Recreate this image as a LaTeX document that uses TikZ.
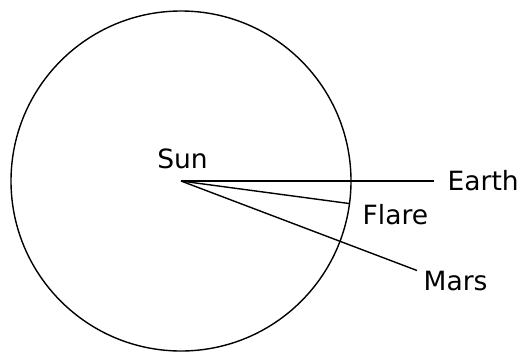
\documentclass[tikz,border=0pt]{standalone}
\usepackage{fontspec}
\setmainfont{DejaVu Sans}
\usetikzlibrary{positioning}

\begin{document}
\begin{tikzpicture}[x=1pt,y=-1pt,
    ray/.style={line width=1.4pt},
    lbl/.style={inner sep=0pt, anchor=base west, font=\fontsize{26.5}{31}\selectfont}]
        \useasboundingbox (0,0) rectangle (522,351);

        % the sun
        \coordinate (sun) at (181,181);
        \draw[ray] (sun) circle (170pt);
        \node[lbl, anchor=base] (sunlbl) at (182.5,168) {Sun};

        % end points of the rays
        \coordinate (earthend) at (434,181);
        \coordinate (flareend) at (349,203.5);
        \coordinate (marsend) at (417,270.5);

        \draw[ray] (sun) -- (earthend);
        \draw[ray] (sun) -- (flareend);
        \draw[ray] (sun) -- (marsend);

        % labels
        \node[lbl] (earth) at (447.5,190.5) {Earth};
        \node[lbl] (flare) at (362.5,224) {Flare};
        \node[lbl] (mars) at (423.5,290) {Mars};
    \end{tikzpicture}
\end{document}
